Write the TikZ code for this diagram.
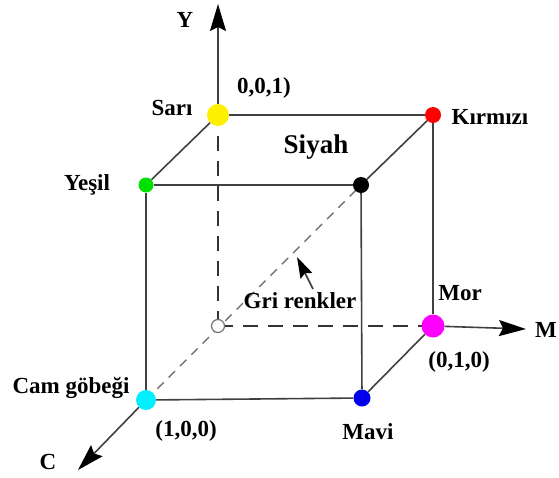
\documentclass[tikz,border=0pt]{standalone}
\usepackage{fontspec}
\setmainfont{Liberation Serif}
\usetikzlibrary{arrows.meta}
\definecolor{sarirenk}{RGB}{255,240,0}
\definecolor{kirmizirenk}{RGB}{255,0,0}
\definecolor{morrenk}{RGB}{255,0,255}
\definecolor{yesilrenk}{RGB}{0,225,0}
\definecolor{camrenk}{RGB}{0,240,255}
\definecolor{mavirenk}{RGB}{0,0,235}
\tikzset{
  edge/.style={line width=1.6pt, draw=black!75},
  axisarrow/.style={edge, -{Stealth[length=27pt, width=16pt, inset=4pt, fill=black, color=black]}},
  hidden/.style={line width=1.6pt, draw=black!80, dash pattern=on 15pt off 10pt},
  graydiag/.style={line width=1.4pt, draw=black!55, dash pattern=on 9pt off 7pt},
  dot/.style={circle, inner sep=0pt, minimum size=#1},
  lbl/.style={font=\bfseries\fontsize{23}{26}\selectfont, inner sep=0pt},
}
\begin{document}
\begin{tikzpicture}[x=1pt, y=-1pt]
    \useasboundingbox (0,0) rectangle (559,477);

    % 坐标点
    \coordinate (ytip) at (218,4);
    \coordinate (mtip) at (526,329);
    \coordinate (ctip) at (78,470);

    % 虚线
    \draw[hidden] (218,326) -- (218,115);
    \draw[hidden] (218,326) -- (433,326);
    \draw[graydiag] (146,400) -- (361,185);

    % 立方体的顶点
    \node[dot=13pt, draw=black!55, line width=1.2pt, fill=white] (gri) at (218,326) {};
    \node[dot=22pt, fill=sarirenk] (sari) at (218,115) {};
    \node[dot=16pt, fill=kirmizirenk] (kirmizi) at (433,115) {};
    \node[dot=23pt, fill=morrenk] (mor) at (433,326) {};
    \node[dot=15pt, fill=yesilrenk] (yesil) at (146,185) {};
    \node[dot=16pt, fill=black] (siyah) at (361,185) {};
    \node[dot=20pt, fill=camrenk] (cam) at (146,400) {};
    \node[dot=17pt, fill=mavirenk] (mavi) at (362,398) {};

    % 立方体的棱
    \draw[edge] (sari) -- (kirmizi);
    \draw[edge] (sari) -- (yesil);
    \draw[edge] (kirmizi) -- (siyah);
    \draw[edge] (yesil) -- (siyah);
    \draw[edge] (kirmizi) -- (mor);
    \draw[edge] (yesil) -- (cam);
    \draw[edge] (siyah) -- (mavi);
    \draw[edge] (cam) -- (mavi);
    \draw[edge] (mavi) -- (mor);

    % 坐标轴
    \draw[axisarrow] (sari) -- (ytip);
    \draw[axisarrow] (mor) -- (mtip);
    \draw[axisarrow] (cam) -- (ctip);

    % 插入文字
    \node[lbl] (ylbl) at (185,20) {Y};
    \node[lbl] (sarilbl) at (172,108) {Sarı};
    \node[lbl] (p001) at (264,88) {0,0,1)};
    \node[lbl] (kirmizilbl) at (490,117) {Kırmızı};
    \node[lbl, font=\bfseries\fontsize{27}{30}\selectfont] (siyahlbl) at (316,147) {Siyah};
    \node[lbl] (yesillbl) at (87,185) {Yeşil};
    \node[lbl] (grilbl) at (300,301) {Gri renkler};
    \node[lbl] (morlbl) at (460,293) {Mor};
    \node[lbl] (mlbl) at (546,330) {M};
    \node[lbl] (p010) at (459,362) {(0,1,0)};
    \node[lbl] (camlbl) at (71,388) {Cam göbeği};
    \node[lbl] (p100) at (186,431) {(1,0,0)};
    \node[lbl] (mavilbl) at (368,432) {Mavi};
    \node[lbl] (clbl) at (48,462) {C};

    % 指向灰色对角线的箭头
    \coordinate (griptr) at (297,257);
    \draw[edge, -{Stealth[length=21pt, width=13pt, inset=3pt, fill=black, color=black]}] (313,289) -- (griptr);

  \end{tikzpicture}
\end{document}
